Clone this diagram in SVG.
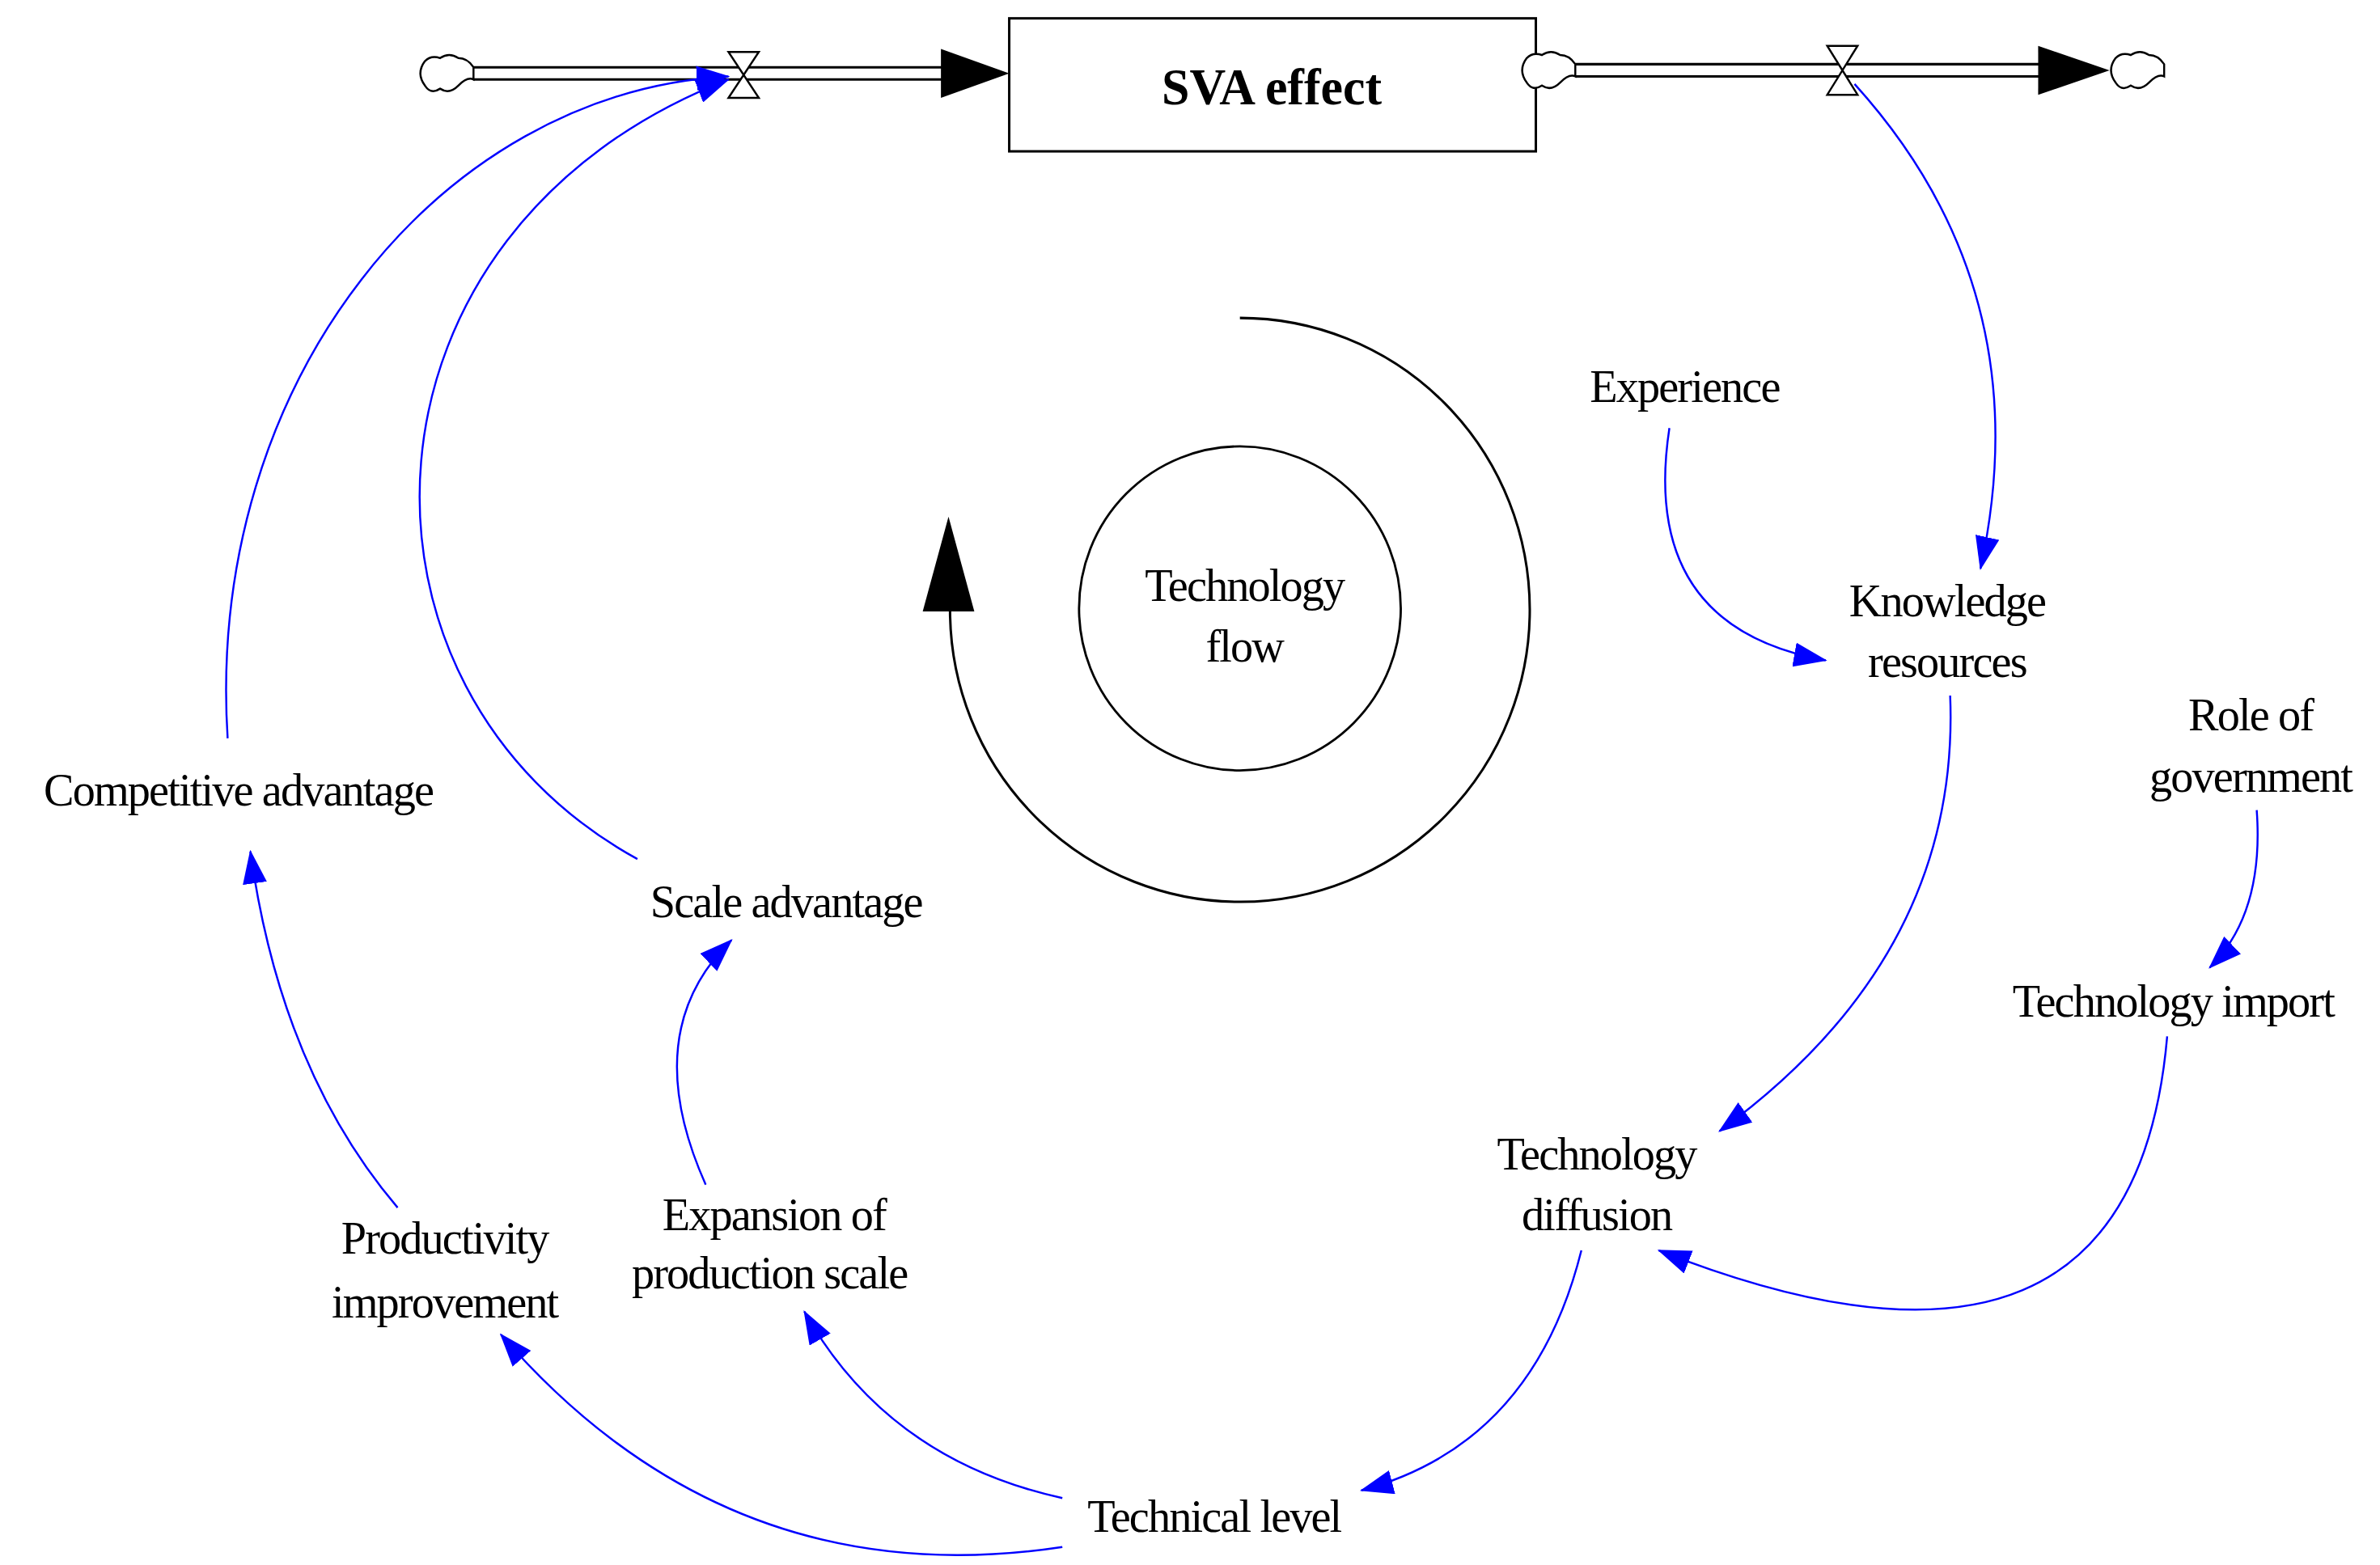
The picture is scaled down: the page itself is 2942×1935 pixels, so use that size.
<svg xmlns="http://www.w3.org/2000/svg" width="2942" height="1935" viewBox="0 0 2942 1935">
<defs>
<style>
text{font-family:"Liberation Serif","Times New Roman",serif;font-size:30px;fill:#000;text-anchor:middle;letter-spacing:-1px}
.c{fill:none;stroke:#0000ff;stroke-width:1.3}
.k{fill:none;stroke:#000;stroke-width:1.6}
.cl{fill:#fff;stroke:#000;stroke-width:1.3}
</style>
<marker id="a" viewBox="0 0 22 16" refX="21" refY="8" markerWidth="22" markerHeight="16" markerUnits="userSpaceOnUse" orient="auto"><path d="M0,0 L22,8 L0,16 Z" fill="#0000ff"/></marker>
</defs>
<rect width="2942" height="1935" fill="#fff"/>
<g transform="scale(1.876,1.89)">
<g id="flow-in">
<path class="k" d="M312,44 H622 M312,52 H622"/>
<path d="M620,32 L665,48 L620,64 Z" fill="#000"/>
<path class="cl" d="M480,34 H500 L480,64 H500 Z"/>
<path class="cl" d="M280,40 q-6,8 0,16 q4,6 10,2 q6,4 12,-2 q6,-6 10,-4 v-8 q-4,-6 -10,-6 q-6,-4 -12,0 q-6,-2 -10,2 Z"/>
</g>
<g id="sva-effect">
<rect x="665" y="12" width="347" height="87" fill="#fff" stroke="#000" stroke-width="1.6"/>
<text x="838" y="68" style="font-weight:bold;font-size:33px;letter-spacing:0">SVA effect</text>
</g>
<g id="flow-out">
<path class="k" d="M1038,42 H1345 M1038,50 H1345"/>
<path d="M1343,30 L1390,46 L1343,62 Z" fill="#000"/>
<path class="cl" d="M1204,30 H1224 L1204,62 H1224 Z"/>
<path class="cl" d="M1006,38 q-6,8 0,16 q4,6 10,2 q6,4 12,-2 q6,-6 10,-4 v-8 q-4,-6 -10,-6 q-6,-4 -12,0 q-6,-2 -10,2 Z"/>
<path class="cl" d="M1394,38 q-6,8 0,16 q4,6 10,2 q6,4 12,-2 q6,-6 10,-4 v-8 q-4,-6 -10,-6 q-6,-4 -12,0 q-6,-2 -10,2 Z"/>
</g>
<g id="loop">
<circle cx="817" cy="398" r="106" fill="none" stroke="#000" stroke-width="1.5"/>
<text x="820" y="393">Technology</text>
<text x="820" y="433">flow</text>
<path class="k" d="M817,208 A191,191 0 1 1 626,400"/>
<path d="M608,400 L625,338 L642,400 Z" fill="#000"/>
</g>
<g id="experience"><text x="1110" y="263">Experience</text></g>
<g id="knowledge-resources"><text x="1283" y="403">Knowledge</text><text x="1283" y="443">resources</text></g>
<g id="role-of-government"><text x="1483" y="478">Role of</text><text x="1483" y="518">government</text></g>
<g id="technology-import"><text x="1432" y="665">Technology import</text></g>
<g id="technology-diffusion"><text x="1052" y="765">Technology</text><text x="1052" y="805">diffusion</text></g>
<g id="technical-level"><text x="800" y="1002">Technical level</text></g>
<g id="expansion"><text x="510" y="805">Expansion of</text><text x="507" y="843">production scale</text></g>
<g id="productivity"><text x="293" y="820">Productivity</text><text x="293" y="862">improvement</text></g>
<g id="competitive-advantage"><text x="157" y="527">Competitive advantage</text></g>
<g id="scale-advantage"><text x="518" y="600">Scale advantage</text></g>
<g id="connectors">
<path class="c" marker-end="url(#a)" d="M1222,55 Q1345,190 1305,372"/>
<path class="c" marker-end="url(#a)" d="M1100,280 Q1080,410 1203,432"/>
<path class="c" marker-end="url(#a)" d="M1285,455 Q1292,625 1133,740"/>
<path class="c" marker-end="url(#a)" d="M1487,530 Q1492,598 1456,633"/>
<path class="c" marker-end="url(#a)" d="M1428,678 Q1405,940 1093,818"/>
<path class="c" marker-end="url(#a)" d="M1042,818 Q1010,945 897,975"/>
<path class="c" marker-end="url(#a)" d="M700,980 Q585,955 530,858"/>
<path class="c" marker-end="url(#a)" d="M700,1012 Q480,1045 330,873"/>
<path class="c" marker-end="url(#a)" d="M262,790 Q185,700 165,557"/>
<path class="c" marker-end="url(#a)" d="M465,775 Q420,675 482,615"/>
<path class="c" marker-end="url(#a)" d="M150,483 C135,250 290,60 480,50"/>
<path class="c" marker-end="url(#a)" d="M420,562 C215,450 225,150 480,52"/>
</g>
</g>
</svg>
